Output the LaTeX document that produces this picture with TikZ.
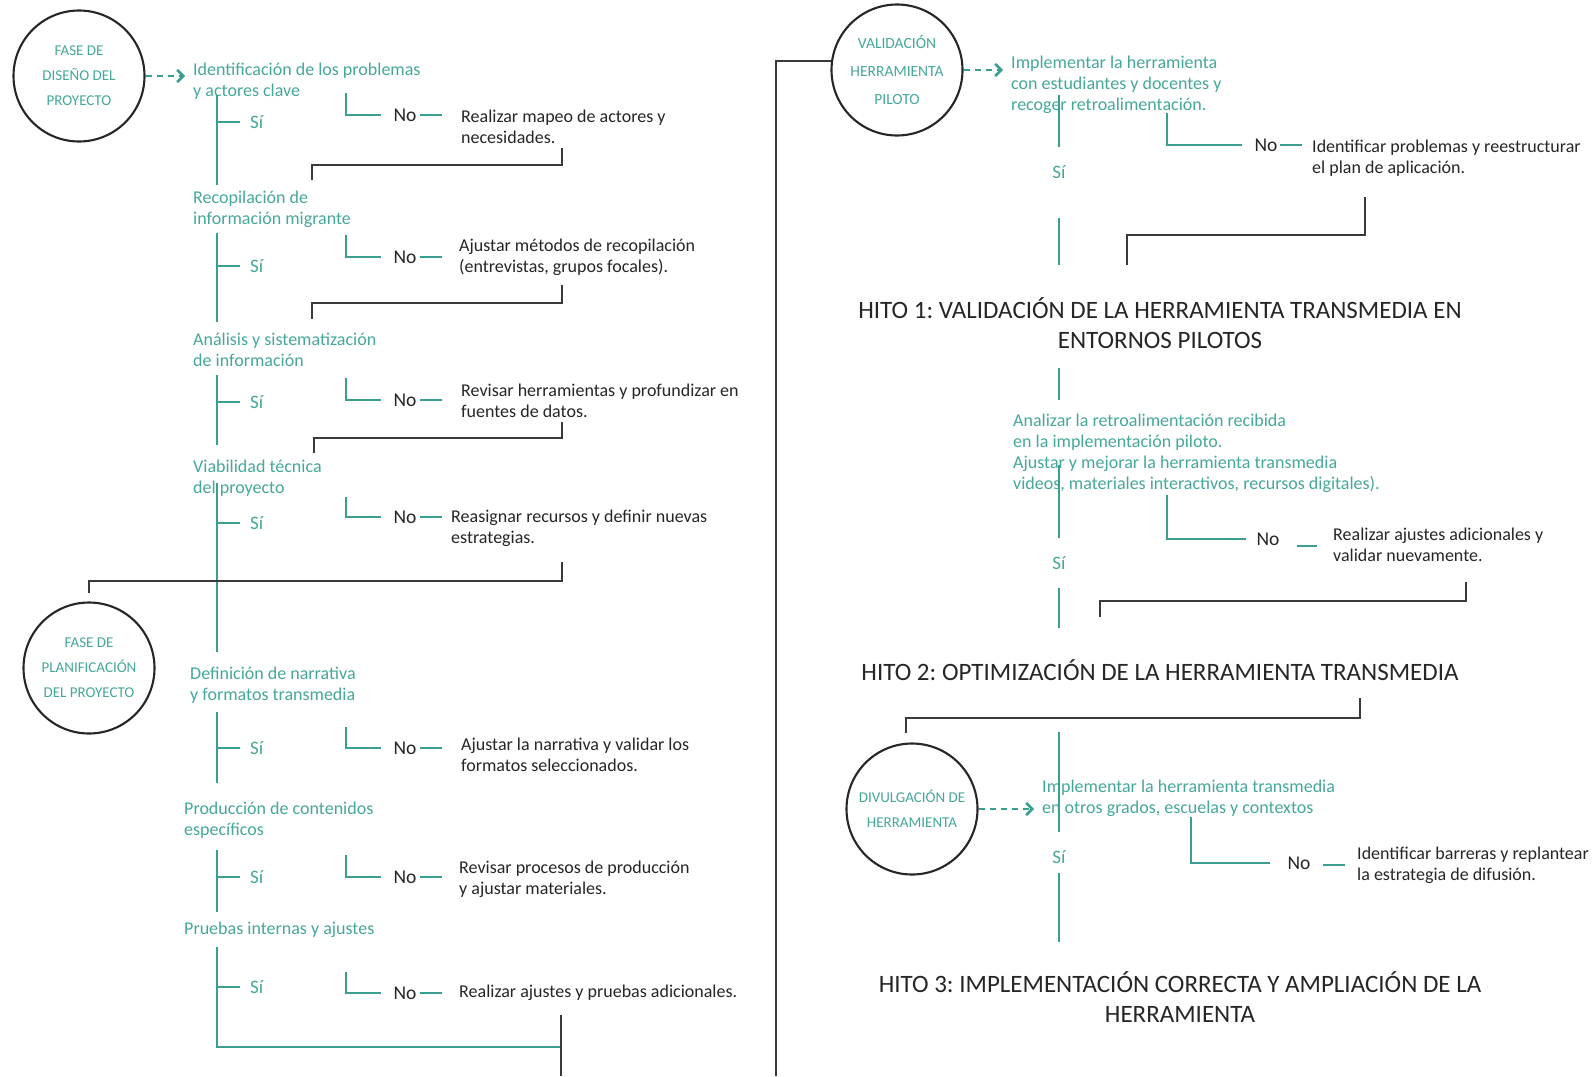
\documentclass[tikz,border=0pt]{standalone}
\usepackage{fontspec}
\setmainfont{Carlito}
\frenchspacing
\usetikzlibrary{arrows.meta}
\definecolor{rutaTeal}{HTML}{3A9E91}
\definecolor{rutaTealText}{HTML}{46A89B}
\definecolor{rutaInk}{HTML}{262626}
\definecolor{rutaGray}{HTML}{3A3A3A}
\tikzset{
  ruta trunk/.style={draw=rutaTeal, line width=2.5pt},
  ruta bracket/.style={draw=rutaGray, line width=2pt},
  ruta phase/.style={circle, draw=rutaInk, line width=2.1pt, minimum size=131pt, inner sep=0pt, align=center, text=rutaTealText, font=\fontsize{15}{25}\selectfont},
  ruta step/.style={anchor=west, align=left, inner sep=0pt, text=rutaTealText, font=\fontsize{18}{21}\selectfont},
  ruta note/.style={anchor=west, align=left, inner sep=0pt, text=rutaInk, font=\fontsize{18}{21}\selectfont},
  ruta yes/.style={inner sep=0pt, text=rutaTealText, font=\fontsize{19}{21}\selectfont},
  ruta no/.style={inner sep=0pt, text=rutaInk, font=\fontsize{19.5}{21}\selectfont},
  ruta hito/.style={align=center, inner sep=0pt, text=rutaInk, font=\fontsize{25}{30}\selectfont},
  ruta link/.style={draw=rutaTeal, line width=2.6pt, dash pattern=on 6pt off 5pt, -{Straight Barb[length=6pt,width=12pt,line width=2.6pt]}, shorten >=8pt},
}

\begin{document}
\begin{tikzpicture}[x=1pt,y=-1pt]
  \fill[white] (0,0) rectangle (1592,1076);
  \useasboundingbox (0,0) rectangle (1592,1076);
  \coordinate (trunkL) at (217,0);

  % phase circles
  \node[ruta phase] (phase1) at (79,76) {FASE DE\\DISEÑO DEL\\PROYECTO};
  \node[ruta phase] (phase2) at (89,668) {FASE DE\\PLANIFICACIÓN\\DEL PROYECTO};
  \node[ruta phase, font=\fontsize{15.5}{28}\selectfont] (phase3) at (897,70) {VALIDACIÓN\\HERRAMIENTA\\PILOTO};
  \node[ruta phase] (phase4) at (912,809) {DIVULGACIÓN DE\\HERRAMIENTA};

  % left column: steps
  \foreach \i/\x/\y/\txt in {
      1/193/81/{Identificación de los problemas\\y actores clave},
      2/193/209.5/{Recopilación de\\información migrante},
      3/193/349.5/{Análisis y sistematización\\de información},
      4/193/478.5/{Viabilidad técnica\\del proyecto},
      5/190/685/{Definición de narrativa\\y formatos transmedia},
      6/184/820/{Producción de contenidos\\específicos},
      7/184/930/{Pruebas internas y ajustes}}
    \node[ruta step] (s\i) at (\x,\y) {\txt};
  \draw[ruta link] (phase1.east) -- (phase1.east -| s1.west);

  % trunk pieces between the steps
  \foreach \i/\a/\b in {1/95/185,2/233/322,3/375/445,4/483/652,5/712/783,6/850/912} {
    \coordinate (ta\i) at (217,\a);
    \coordinate (tb\i) at (217,\b);
    \draw[ruta trunk] (ta\i) -- (tb\i);
  }
  \coordinate (ta7) at (217,947);
  \coordinate (endL) at (561,1047);
  \draw[ruta trunk] (ta7) |- (endL);

  % si / no branches
  \foreach \i/\sy/\lt/\ny/\tx/\ty/\txt in {
      1/122/93/115/461/127/{Realizar mapeo de actores y\\necesidades.},
      2/266/235/257/459/257/{Ajustar métodos de recopilación\\(entrevistas, grupos focales).},
      3/402/378/400/461/401/{Revisar herramientas y profundizar en\\fuentes de datos.},
      4/523/497/517/451/528/{Reasignar recursos y definir nuevas\\estrategias.},
      5/748/727/748/461/755/{Ajustar la narrativa y validar los\\formatos seleccionados.},
      6/877/855/877/459/879/{Revisar procesos de producción\\y ajustar materiales.},
      7/987/972/993/459/993/{Realizar ajustes y pruebas adicionales.}} {
    \node[ruta yes, anchor=west] (si\i) at (250,\sy) {Sí};
    \draw[ruta trunk] (si\i.west -| trunkL) -- ([xshift=-10pt]si\i.west);
    \coordinate (nt\i) at (346,\lt);
    \node[ruta no] (no\i) at (405,\ny) {No};
    \draw[ruta trunk] (nt\i) |- ([xshift=-12pt]no\i.west);
    \draw[ruta trunk] ([xshift=3pt]no\i.east) -- ++(22,0);
    \node[ruta note] (note\i) at (\tx,\ty) {\txt};
  }

  % black returns to the next step
  \foreach \i/\x/\a/\m/\xe/\b in {1/562/148/165/312/180,2/562/285/303/312/319,3/562/422/438/314/453} {
    \coordinate (bs\i) at (\x,\a);
    \coordinate (be\i) at (\xe,\b);
    \draw[ruta bracket] (bs\i) -- ++(0,\m-\a) -| (be\i);
  }
  \coordinate (bs4) at (562,562);
  \draw[ruta bracket] (bs4) -- ++(0,19) -| ([yshift=8pt]phase2.north);
  \coordinate (exitL) at (561,1015);
  \coordinate (bottomL) at (561,1076);
  \draw[ruta bracket] (exitL) -- (bottomL);

  % right column
  \coordinate (bottomR) at (776,1076);
  \draw[ruta bracket] (phase3.172) -| (bottomR);

  \node[ruta step] (r1) at (1011,85) {Implementar la herramienta\\con estudiantes y docentes y\\recoger retroalimentación.};
  \node[ruta step] (r2) at (1013,453.5) {Analizar la retroalimentación recibida\\en la implementación piloto.\\Ajustar y mejorar la herramienta transmedia\\videos, materiales interactivos, recursos digitales).};
  \node[ruta step] (r3) at (1042,798.5) {Implementar la herramienta transmedia\\en otros grados, escuelas y contextos};
  \draw[ruta link] (phase3.east) -- (phase3.east -| r1.west);
  \draw[ruta link] (phase4.east) -- (phase4.east -| r3.west);

  \foreach \i/\a/\b in {8/95/147,9/218/265,10/368/400,11/465/538,12/588/628,13/732/832,14/873/942} {
    \coordinate (ta\i) at (1059,\a);
    \coordinate (tb\i) at (1059,\b);
    \draw[ruta trunk] (ta\i) -- (tb\i);
  }
  \foreach \i/\y in {8/172,9/563,10/857}
    \node[ruta yes] (si\i) at (1059,\y) {Sí};

  % right no branches
  \coordinate (nt8) at (1167,113);
  \node[ruta no] (no8) at (1266,145) {No};
  \draw[ruta trunk] (nt8) |- ([xshift=-12pt]no8.west);
  \draw[ruta trunk] ([xshift=2pt]no8.east) -- ++(22,0);
  \node[ruta note] (note8) at (1312,158) {Identificar problemas y reestructurar\\el plan de aplicación.};

  \coordinate (nt9) at (1167,495);
  \node[ruta no] (no9) at (1268,539) {No};
  \draw[ruta trunk] (nt9) |- ([xshift=-10pt]no9.west);
  \draw[ruta trunk] ([xshift=17pt,yshift=-7pt]no9.east) -- ++(20,0);
  \node[ruta note] (note9) at (1333,545) {Realizar ajustes adicionales y\\validar nuevamente.};

  \coordinate (nt10) at (1191,817);
  \node[ruta no] (no10) at (1299,863) {No};
  \draw[ruta trunk] (nt10) |- ([xshift=-17pt]no10.west);
  \draw[ruta trunk] ([xshift=12pt,yshift=-2pt]no10.east) -- ++(22,0);
  \node[ruta note] (note10) at (1357,865) {Identificar barreras y replantear\\la estrategia de difusión.};

  % milestones
  \node[ruta hito] (hito1) at (1160,323) {HITO 1: VALIDACIÓN DE LA HERRAMIENTA TRANSMEDIA EN\\ENTORNOS PILOTOS};
  \node[ruta hito] (hito2) at (1160,670) {HITO 2: OPTIMIZACIÓN DE LA HERRAMIENTA TRANSMEDIA};
  \node[ruta hito] (hito3) at (1180,997) {HITO 3: IMPLEMENTACIÓN CORRECTA Y AMPLIACIÓN DE LA\\HERRAMIENTA};

  % black returns on the right
  \coordinate (bs5) at (1365,197);
  \coordinate (be5) at (1127,265);
  \draw[ruta bracket] (bs5) -- ++(0,38) -| (be5);
  \coordinate (bs6) at (1466,582);
  \coordinate (be6) at (1100,617);
  \draw[ruta bracket] (bs6) -- ++(0,19) -| (be6);
  \coordinate (bs7) at (1360,698);
  \draw[ruta bracket] (bs7) -- ++(0,20) -| ([yshift=10pt]phase4.95);
\end{tikzpicture}
\end{document}
